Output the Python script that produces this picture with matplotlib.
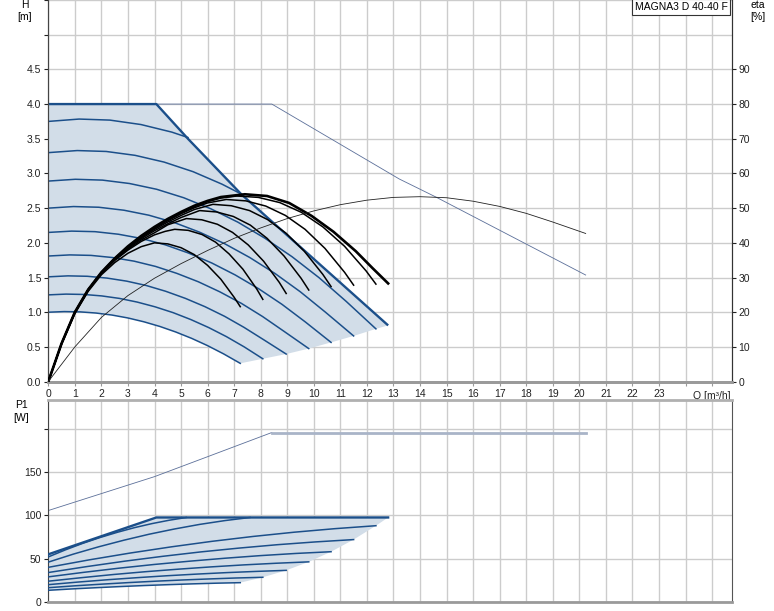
import numpy as np
import matplotlib.pyplot as plt

plt.rcParams['font.family'] = ['Liberation Sans', 'DejaVu Sans']

# Q-H speed curves [m3/h], [m]
speed_q = [
    [0, 0.6, 1.2, 1.8, 2.4, 3.0, 3.6, 4.2, 4.8, 5.4, 6.0, 6.6, 7.23],
    [0, 0.67, 1.34, 2.01, 2.68, 3.35, 4.02, 4.70, 5.37, 6.04, 6.71, 7.38, 8.08],
    [0, 0.74, 1.47, 2.21, 2.95, 3.69, 4.42, 5.16, 5.90, 6.64, 7.37, 8.11, 8.96],
    [0, 0.81, 1.61, 2.42, 3.23, 4.04, 4.84, 5.65, 6.46, 7.27, 8.07, 8.88, 9.81],
    [0, 0.88, 1.76, 2.64, 3.52, 4.40, 5.28, 6.16, 7.04, 7.92, 8.80, 9.68, 10.65],
    [0, 0.95, 1.90, 2.85, 3.79, 4.74, 5.69, 6.64, 7.59, 8.54, 9.49, 10.44, 11.5],
    [0, 1.02, 2.04, 3.06, 4.08, 5.10, 6.12, 7.14, 8.16, 9.18, 10.2, 11.22, 12.34],
    [0, 1.09, 2.18, 3.27, 4.36, 5.45, 6.54, 7.27],
    [0, 1.16, 2.32, 3.49, 4.65, 5.26],
]
speed_h = [
    [1.00, 1.009, 1.005, 0.988, 0.959, 0.917, 0.862, 0.795, 0.715, 0.623, 0.518, 0.400, 0.263],
    [1.25, 1.261, 1.256, 1.235, 1.199, 1.146, 1.078, 0.994, 0.894, 0.779, 0.648, 0.500, 0.329],
    [1.51, 1.524, 1.518, 1.492, 1.448, 1.385, 1.302, 1.200, 1.080, 0.941, 0.782, 0.604, 0.397],
    [1.81, 1.826, 1.819, 1.788, 1.736, 1.660, 1.560, 1.439, 1.294, 1.128, 0.938, 0.724, 0.476],
    [2.15, 2.169, 2.161, 2.124, 2.062, 1.972, 1.853, 1.709, 1.537, 1.339, 1.114, 0.860, 0.565],
    [2.50, 2.523, 2.513, 2.470, 2.398, 2.293, 2.155, 1.988, 1.788, 1.558, 1.295, 1.000, 0.658],
    [2.89, 2.916, 2.904, 2.855, 2.772, 2.650, 2.491, 2.298, 2.066, 1.800, 1.497, 1.156, 0.760],
    [3.30, 3.330, 3.317, 3.261, 3.164, 3.026, 2.846, 2.703],
    [3.75, 3.784, 3.769, 3.705, 3.596, 3.518],
]
max_q = [0, 4.07, 5.26, 7.27, 12.8]
max_h = [4.0, 4.0, 3.50, 2.70, 0.81]

# single pump max curve (thin)
ext_q = [0, 8.42, 13.22, 14.6, 20.24]
ext_h = [4.0, 4.0, 2.92, 2.66, 1.536]

# efficiency curves [%]
eta_q = [
    [0, 0.5, 1, 1.5, 2, 2.5, 3, 3.5, 4, 4.5, 5, 5.5, 6, 6.5, 7, 7.23],
    [0, 0.5, 1, 1.5, 2, 2.5, 3, 3.5, 4, 4.4, 4.76, 5.27, 5.79, 6.30, 6.81, 7.33, 7.85, 8.08],
    [0, 0.5, 1, 1.5, 2, 2.5, 3, 3.5, 4, 4.5, 5.2, 5.78, 6.37, 6.94, 7.53, 8.11, 8.70, 8.96],
    [0, 0.5, 1, 1.5, 2, 2.5, 3, 3.5, 4, 4.5, 5, 5.7, 6.34, 6.97, 7.61, 8.24, 8.88, 9.52, 9.81],
    [0, 0.5, 1, 1.5, 2, 2.5, 3, 3.5, 4, 4.5, 5, 5.5, 6.2, 6.89, 7.58, 8.26, 8.95, 9.64,
     10.34, 10.65],
    [0, 0.5, 1, 1.5, 2, 2.5, 3, 3.5, 4, 4.5, 5, 5.5, 6, 6.7, 7.44, 8.19, 8.93, 9.67, 10.42,
     11.16, 11.5],
    [0, 0.5, 1, 1.5, 2, 2.5, 3, 3.5, 4, 4.5, 5, 5.5, 6, 6.5, 7.1, 7.91, 8.72, 9.53, 10.34,
     11.16, 11.97, 12.34],
    [0, 0.5, 1, 1.5, 2, 2.5, 3, 3.5, 4, 4.5, 5, 5.5, 6, 6.5, 7.4, 8.24, 9.07, 9.91, 10.74,
     11.58, 12.2, 12.8],
]
eta_v = [
    [0, 10.8, 19.6, 26, 30.8, 34.3, 37, 38.9, 40, 39.7, 38.6, 36.6, 33.5, 29.5, 24.3, 21.6],
    [0, 10.9, 19.8, 26.3, 31.1, 34.9, 37.9, 40.4, 42.3, 43.3, 43.9, 43.6, 42.4, 40.2, 36.8,
     32.4, 26.7, 23.7],
    [0, 11, 20, 26.4, 31.3, 35.1, 38.2, 40.8, 42.9, 45.2, 47, 46.65, 45.35, 43.0, 39.4, 34.7,
     28.6, 25.4],
    [0, 11, 20, 26.5, 31.4, 35.3, 38.5, 41.2, 43.5, 45.5, 47.3, 49.3, 48.9, 47.6, 45.1, 41.3,
     36.2, 29.8, 26.4],
    [0, 11, 20, 26.5, 31.4, 35.4, 38.7, 41.5, 43.9, 46.0, 47.9, 49.6, 51.1, 50.7, 49.3, 46.7,
     42.8, 37.6, 30.9, 27.4],
    [0, 11, 20, 26.5, 31.5, 35.5, 38.8, 41.7, 44.2, 46.4, 48.4, 50.1, 51.5, 52.5, 52.1, 50.6,
     47.9, 43.9, 38.4, 31.5, 27.8],
    [0, 11, 20, 26.5, 31.5, 35.5, 38.9, 41.9, 44.4, 46.6, 48.6, 50.4, 51.9, 52.9, 53.5, 53.1,
     51.6, 48.8, 44.6, 39.0, 31.9, 28.1],
    [0, 11, 20, 26.5, 31.5, 35.5, 39, 42, 44.6, 46.9, 48.9, 50.7, 52.1, 53.2, 54, 53.5, 51.5,
     47.8, 43.2, 37.6, 32.8, 28.3],
]
eta_ext_q = [0, 1, 2, 3, 4, 5, 6, 7, 8, 9, 10, 11, 12, 13, 14, 15, 16, 17, 18, 19, 20.24]
eta_ext_v = [0, 10, 18.5, 24.8, 29.8, 34.0, 37.8, 41.3, 44.3, 47.0, 49.2, 51.0, 52.3, 53.1,
             53.3, 53.0, 52.0, 50.5, 48.5, 46.0, 42.7]

# power curves P1 [W]
p_q = [
    [0, 0.90, 1.81, 2.71, 3.62, 4.52, 5.42, 6.33, 7.23],
    [0, 1.01, 2.02, 3.03, 4.04, 5.05, 6.06, 7.07, 8.08],
    [0, 1.12, 2.24, 3.36, 4.48, 5.60, 6.72, 7.84, 8.96],
    [0, 1.23, 2.45, 3.68, 4.91, 6.13, 7.36, 8.58, 9.81],
    [0, 1.33, 2.66, 3.99, 5.33, 6.66, 7.99, 9.32, 10.65],
    [0, 1.44, 2.88, 4.31, 5.75, 7.19, 8.63, 10.06, 11.5],
    [0, 1.54, 3.09, 4.63, 6.17, 7.71, 9.26, 10.80, 12.34],
    [0, 0.95, 1.9, 2.85, 3.8, 4.75, 5.7, 6.65, 7.6],
    [0, 0.65, 1.3, 1.95, 2.6, 3.25, 3.9, 4.55, 5.2],
]
p_v = [
    [13.5, 15.1, 16.5, 17.8, 19.0, 20.0, 20.9, 21.7, 22.3],
    [16.5, 18.7, 20.6, 22.4, 24.0, 25.4, 26.6, 27.7, 28.5],
    [20, 23.0, 25.7, 28.1, 30.3, 32.2, 33.9, 35.3, 36.5],
    [24, 28.0, 31.7, 35.0, 37.9, 40.5, 42.8, 44.7, 46.3],
    [29, 34.2, 39.0, 43.3, 47.1, 50.5, 53.5, 56.0, 58],
    [34, 40.8, 47.1, 52.7, 57.8, 62.2, 66.1, 69.3, 72],
    [40, 48.6, 56.5, 63.6, 70.0, 75.6, 80.5, 84.6, 88],
    [46, 55.3, 63.7, 71.3, 78.2, 84.2, 89.5, 93.9, 97.5],
    [52, 60.2, 67.7, 74.4, 80.4, 85.8, 90.4, 94.3, 97.5],
]
pmax_q = [0, 4.07, 12.8]
pmax_v = [55, 97.5, 97.5]
pext_q = [0, 4, 6, 8.42, 20.24]
pext_v = [105.5, 144.6, 167.6, 195.5, 195.5]

blue = '#1b4f8a'
fill = '#d2dde8'
thin = '#5b6f99'
grid = '#cccccc'
txt = '#222222'

fig = plt.figure(figsize=(7.74, 6.11), dpi=100)
ax = fig.add_axes([48.3 / 774, 1 - 381.6 / 611, 683.4 / 774, 381.6 / 611])
axp = fig.add_axes([48.3 / 774, 1 - 602 / 611, 683.4 / 774, 202 / 611])
xmax = 25.74

# ---- top chart
poly_q = max_q + [q[-1] for q in speed_q[6::-1]] + speed_q[0][::-1]
poly_h = max_h + [h[-1] for h in speed_h[6::-1]] + speed_h[0][::-1]
ax.fill(poly_q, poly_h, color=fill, lw=0, zorder=1)
for q, h in zip(speed_q, speed_h):
    ax.plot(q, h, color=blue, lw=1.1, zorder=3)
ax.plot(max_q, max_h, color=blue, lw=1.7, zorder=3, solid_capstyle='butt')
ax.plot(ext_q, ext_h, color=thin, lw=0.6, zorder=2)

ax.set_xlim(0, xmax)
ax.set_ylim(0, 5.5)
ax.set_xticks(range(0, 26))
ax.set_xticklabels([str(i) for i in range(24)] + ['', ''])
ax.set_yticks(np.arange(0, 5.51, 0.5))
ax.set_yticklabels(['%.1f' % v for v in np.arange(0, 4.51, 0.5)] + ['', ''])
for t in ax.yaxis.get_major_ticks()[-2:]:
    t.tick1line.set_visible(False)
ax.grid(True, color=grid, lw=1.0, zorder=0)
ax.set_axisbelow(True)
ax.tick_params(length=3, width=0.8, labelsize=7.5, pad=2, colors=txt)
ax.tick_params(axis='x', length=3, pad=2, color='#999999')
ax.text(24.3, -0.14, 'Q [m³/h]', fontsize=7.5, va='top', ha='left', color=txt)

ax2 = ax.twinx()
ax2.set_ylim(0, 110)
ax2.set_yticks(range(0, 91, 10))
ax2.tick_params(length=3, width=0.8, labelsize=7.5, pad=2, colors=txt)
for i, (q, v) in enumerate(zip(eta_q, eta_v)):
    ax2.plot(q, v, color='black', lw=1.9 if i == 7 else 1.1, zorder=4)
ax2.plot(eta_ext_q, eta_ext_v, color=txt, lw=0.6, zorder=4)

for a in (ax, ax2):
    a.spines['top'].set_visible(False)
    a.spines['left'].set_color('#444444')
    a.spines['right'].set_color('#333333')
    a.spines['bottom'].set_color('#9a9a9a')
    a.spines['bottom'].set_linewidth(2)

# ---- bottom chart
pq = pmax_q + [q[-1] for q in p_q[6::-1]] + p_q[0][::-1]
pv = pmax_v + [v[-1] for v in p_v[6::-1]] + p_v[0][::-1]
axp.fill(pq, pv, color=fill, lw=0, zorder=1)
for q, v in zip(p_q, p_v):
    axp.plot(q, v, color=blue, lw=1.1, zorder=3)
axp.plot(pmax_q, pmax_v, color=blue, lw=1.7, zorder=3)
axp.plot(pext_q[:4], pext_v[:4], color=thin, lw=0.6, zorder=2)
axp.plot(pext_q[3:], pext_v[3:], color='#a9b4c8', lw=2, zorder=2)

axp.set_xlim(0, xmax)
axp.set_ylim(0, 233)
axp.set_xticks(range(0, 26))
axp.set_xticklabels([])
axp.tick_params(axis='x', length=0)
axp.set_yticks([0, 50, 100, 150, 200])
axp.set_yticklabels(['0', '50', '100', '150', ''])
axp.tick_params(axis='y', length=3, width=0.8, labelsize=7.5, pad=2, colors=txt)
axp.grid(True, color=grid, lw=1.0, zorder=0)
axp.set_axisbelow(True)
axp.spines['left'].set_color('#444444')
axp.spines['right'].set_color('#555555')
axp.spines['top'].set_color('#b0b0b0')
axp.spines['top'].set_linewidth(2)
axp.spines['bottom'].set_color('#9a9a9a')
axp.spines['bottom'].set_linewidth(2)

# axis titles
fig.text(25 / 774, 1 - 5 / 611, 'H', fontsize=7.5, ha='center', va='center')
fig.text(25 / 774, 1 - 17 / 611, '[m]', fontsize=7.5, ha='center', va='center')
fig.text(758 / 774, 1 - 5 / 611, 'eta', fontsize=7.5, ha='center', va='center')
fig.text(758 / 774, 1 - 17 / 611, '[%]', fontsize=7.5, ha='center', va='center')
fig.text(21 / 774, 1 - 405 / 611, 'P1', fontsize=7.5, ha='center', va='center')
fig.text(21 / 774, 1 - 418 / 611, '[W]', fontsize=7.5, ha='center', va='center')
fig.text(681 / 774, 1 - 7 / 611, 'MAGNA3 D 40-40 F', fontsize=7.5, ha='center', va='center',
         bbox=dict(boxstyle='square,pad=0.25', fc='white', ec='#333333', lw=0.8))

fig.savefig('out.png', dpi=100)
